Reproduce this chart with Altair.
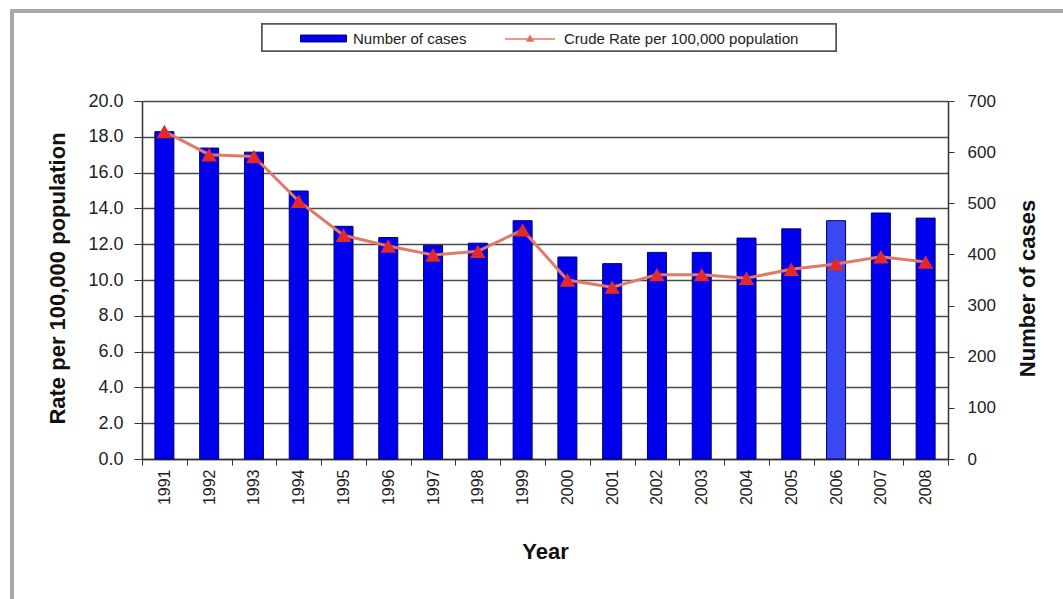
import altair as alt
import pandas as pd

years = [str(y) for y in range(1991, 2009)]
cases = [640, 608, 600, 524, 455, 433, 418, 422, 466, 395, 382, 404, 404, 432, 450, 466, 481, 471]
rates = [18.3, 17.0, 16.9, 14.4, 12.5, 11.9, 11.4, 11.6, 12.8, 10.0, 9.6, 10.3, 10.3, 10.1, 10.6, 10.9, 11.3, 11.0]
bar_series = "Number of cases"
line_series = "Crude Rate per 100,000 population"

df = pd.DataFrame({
    "Year": years,
    "Cases": cases,
    "Rate": rates,
    "bar_s": [bar_series] * len(years),
    "line_s": [line_series] * len(years),
})

FONT = "Liberation Sans"
W, H = 806, 358

x_enc = alt.X(
    "Year:O",
    scale=alt.Scale(paddingInner=0, paddingOuter=0),
    axis=alt.Axis(
        title="Year", titleFontSize=22, titleFontWeight="bold", titleColor="#111",
        titleFont=FONT, titleY=92, titleBaseline="middle",
        labelAngle=270, labelFontSize=16, labelFont=FONT, labelColor="#222",
        labelPadding=4, labelAlign="right", labelBaseline="middle",
        tickBand="extent", tickSize=6, tickColor="#333", domainColor="#333",
        domainWidth=1.5, grid=False,
    ),
)

frame = alt.Chart(df).mark_rect(fill=None, stroke="#a8a8a8", strokeWidth=2.5).encode(
    x=alt.value(-130), x2=alt.value(960), y=alt.value(-90), y2=alt.value(540)
)
legend_box = alt.Chart(df).mark_rect(fill="white", stroke="#555", strokeWidth=1.5).encode(
    x=alt.value(120), x2=alt.value(694), y=alt.value(-77), y2=alt.value(-50)
)

bars = alt.Chart(df).mark_bar(size=19, stroke="#000070", strokeWidth=1).encode(
    x=x_enc,
    y=alt.Y(
        "Cases:Q",
        scale=alt.Scale(domain=[0, 700], nice=False),
        axis=alt.Axis(
            orient="right", title="Number of cases", titleFontSize=22,
            titleFontWeight="bold", titleFont=FONT, titleColor="#111",
            titleAngle=270, titleX=79, titleY=187, titleBaseline="middle", titleAlign="center",
            values=list(range(0, 701, 100)), labelFontSize=17, labelFont=FONT,
            labelColor="#222", labelPadding=13, tickSize=6, tickColor="#333",
            domainColor="#333", domainWidth=1.5, grid=False,
        ),
    ),
    fill=alt.condition(
        "datum.Year == '2006'",
        alt.value("#3a48f2"),
        alt.Fill(
            "bar_s:N",
            scale=alt.Scale(domain=[bar_series], range=["#0000ee"]),
            legend=alt.Legend(
                title=None, orient="none", legendX=158, legendY=-86, padding=0,
                symbolType="M-1,-0.15H1V0.15H-1Z", symbolSize=2116,
                symbolFillColor="#0000ee", symbolStrokeColor="#000070",
                symbolStrokeWidth=1, labelFontSize=15, labelFont=FONT,
                labelColor="#222", labelOffset=6, labelLimit=0,
            ),
        ),
    ),
)

line = alt.Chart(df).mark_line(strokeWidth=3).encode(
    x=alt.X("Year:O"),
    y=alt.Y(
        "Rate:Q",
        scale=alt.Scale(domain=[0, 20], nice=False),
        axis=alt.Axis(
            orient="left", title="Rate per 100,000 population", titleFontSize=22,
            titleFontWeight="bold", titleFont=FONT, titleColor="#111",
            titleAngle=270, titleX=-85, titleY=177, titleBaseline="middle", titleAlign="center",
            values=[0, 2, 4, 6, 8, 10, 12, 14, 16, 18, 20], format=".1f",
            labelFontSize=18, labelFont=FONT, labelColor="#222", labelPadding=11,
            tickSize=8, tickColor="#333", domainColor="#333", domainWidth=1.5,
            grid=True, gridColor="#4a4a4a", gridWidth=1.5,
        ),
    ),
    stroke=alt.Stroke(
        "line_s:N",
        scale=alt.Scale(domain=[line_series], range=["#e07a68"]),
        legend=alt.Legend(
            title=None, orient="none", legendX=362, legendY=-88, padding=0,
            symbolType="M-1,0H1M0,-0.13L0.12,0.08L-0.12,0.08Z", symbolSize=2500,
            symbolFillColor="#e02a2a", symbolStrokeColor="#e07a68",
            symbolStrokeWidth=1.5, labelFontSize=15, labelFont=FONT,
            labelColor="#222", labelOffset=8, labelLimit=0,
        ),
    ),
)

points = alt.Chart(df).mark_point(
    shape="triangle-up", filled=True, color="#e22a2a", size=240, opacity=1
).encode(
    x=alt.X("Year:O"),
    y=alt.Y("Rate:Q", scale=alt.Scale(domain=[0, 20], nice=False), axis=None),
)

chart = (
    alt.layer(frame, legend_box, bars, line, points)
    .resolve_scale(y="independent", fill="independent", stroke="independent")
    .properties(
        width=W, height=H,
        autosize=alt.AutoSizeParams(type="none"),
        padding={"left": 142, "top": 101, "right": 115, "bottom": 140},
        background="white",
    )
    .configure_view(stroke=None)
)

chart.save("out.html", embed_options={"renderer": "svg", "actions": False})
